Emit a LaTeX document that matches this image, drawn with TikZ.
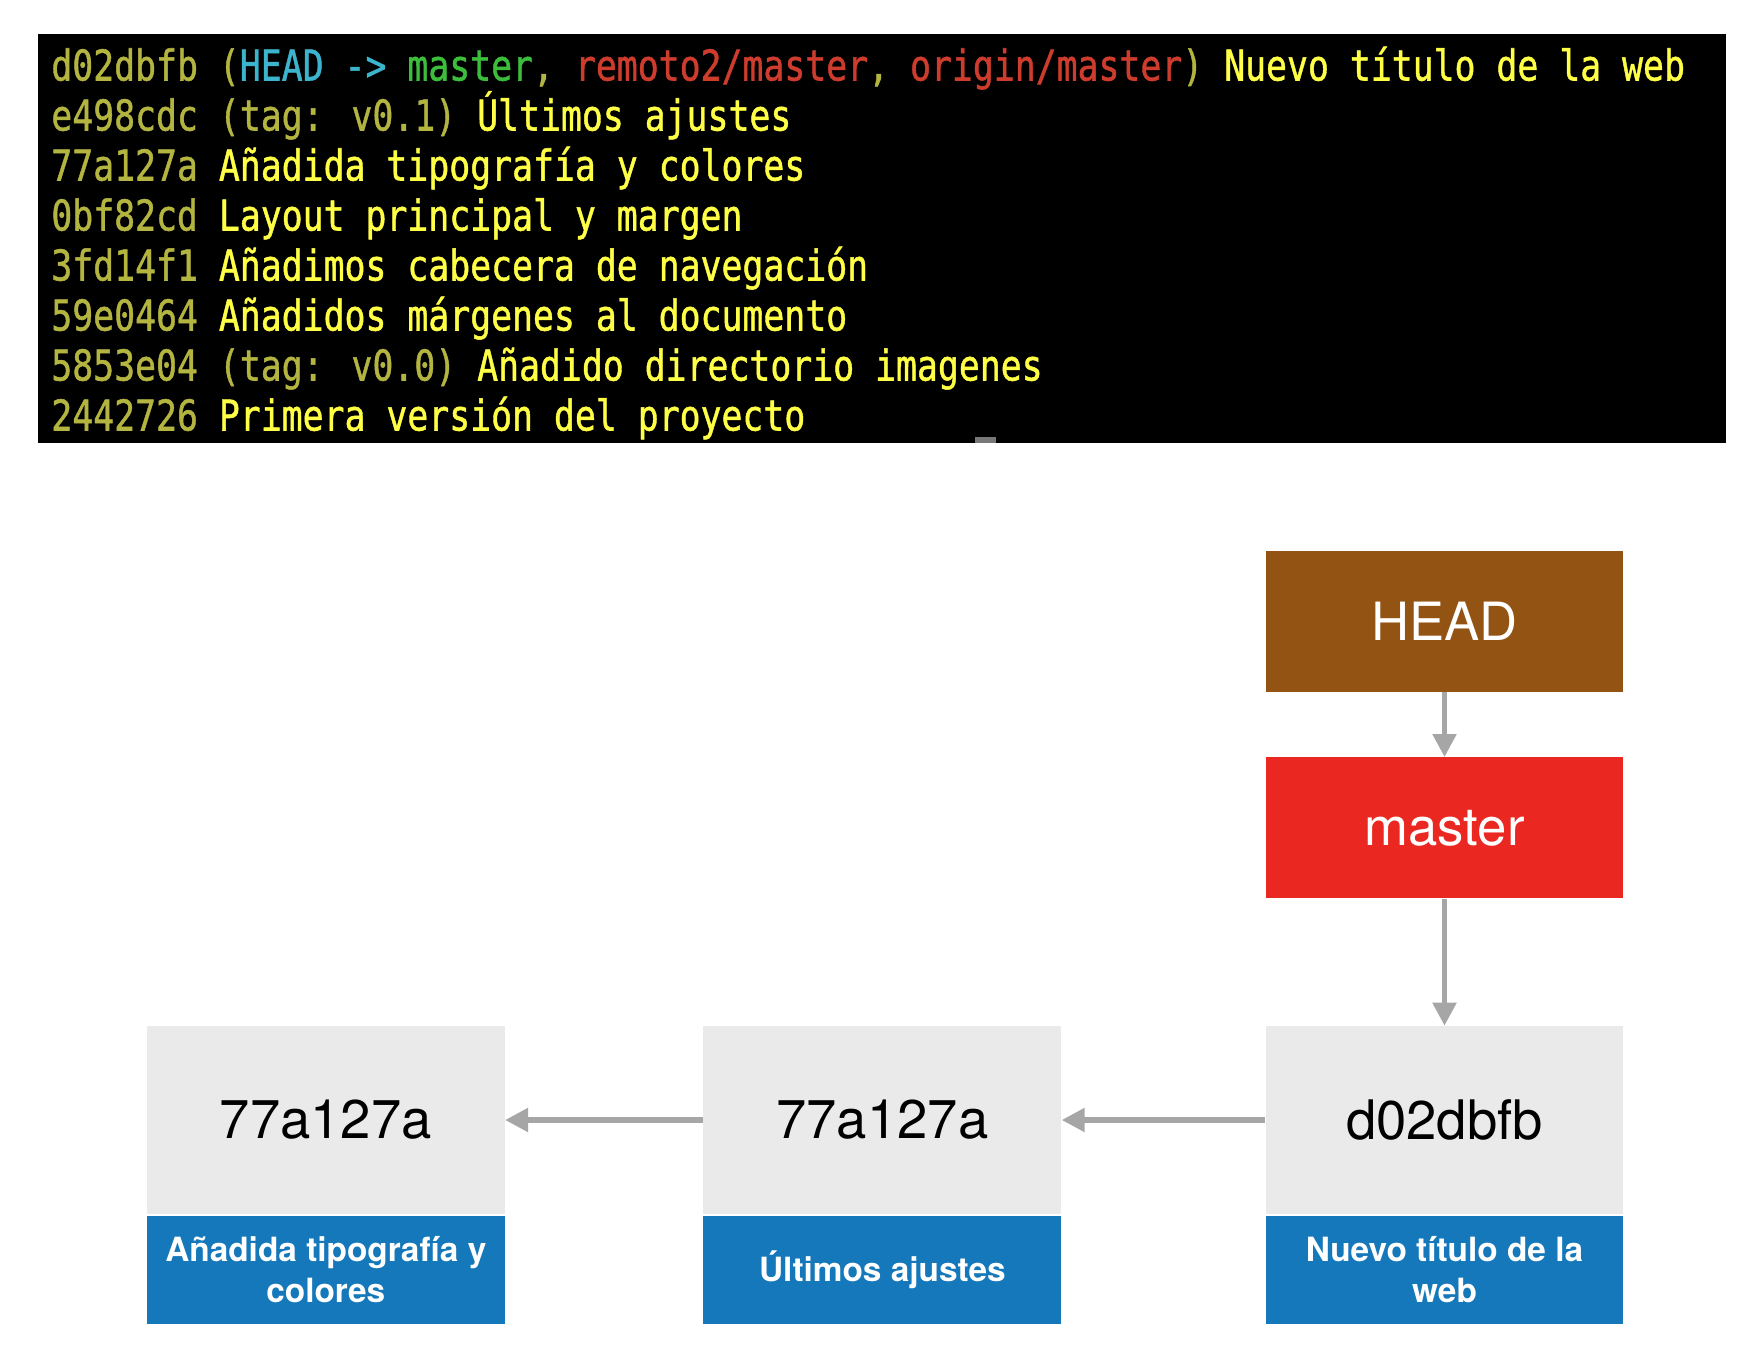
\documentclass[tikz,border=0pt]{standalone}
\usepackage{fontspec}
\usepackage{graphicx}
\usetikzlibrary{positioning,arrows.meta}

\newfontfamily\termfont[FakeBold=1.2]{DejaVu Sans Mono}
\newfontfamily\boxfont{TeX Gyre Heros}

\definecolor{termhash}{RGB}{180,180,64}
\definecolor{termmsg}{RGB}{255,255,70}
\definecolor{termhead}{RGB}{60,180,205}
\definecolor{termbranch}{RGB}{60,190,60}
\definecolor{termremote}{RGB}{205,60,45}
\definecolor{cursorgray}{RGB}{120,120,120}
\definecolor{headcolor}{RGB}{147,83,19}
\definecolor{mastercolor}{RGB}{234,40,33}
\definecolor{commitgray}{RGB}{234,234,234}
\definecolor{msgblue}{RGB}{20,120,186}
\definecolor{arrowgray}{RGB}{166,166,166}

\newcommand{\hsh}[1]{\textcolor{termhash}{#1}}
\newcommand{\termrow}[1]{\scalebox{1}[1.22]{#1}}

\tikzset{
    >={Triangle[length=0.46cm,width=0.46cm]},
    termline/.style={
        anchor=base west,
        inner sep=0pt,
        text=termmsg,
        font=\termfont\fontsize{19.8}{24}\selectfont
    },
    refbox/.style={
        rectangle,
        minimum width=7.15cm,
        minimum height=2.82cm,
        inner sep=0pt,
        text=white,
        font=\boxfont\fontsize{30}{36}\selectfont
    },
    commit/.style={
        rectangle,
        fill=commitgray,
        minimum width=7.16cm,
        minimum height=3.76cm,
        inner sep=0pt,
        font=\boxfont\fontsize{31}{36}\selectfont
    },
    msg/.style={
        rectangle,
        fill=msgblue,
        minimum width=7.16cm,
        minimum height=2.16cm,
        inner sep=0pt,
        align=center,
        text=white,
        font=\boxfont\bfseries\fontsize{19}{23.2}\selectfont
    },
    link/.style={draw=arrowgray, line width=3pt, ->}
}

\begin{document}
\begin{tikzpicture}[x=0.02cm, y=-0.02cm, node distance=4cm]
    \useasboundingbox (0,0) rectangle (1754,1368);

    % terminal
    \fill[black] (38,34) rectangle (1726,443);
    \fill[cursorgray] (975,437) rectangle (996,443);
    \node[termline] (L1) at (51,80.5) {\termrow{\hsh{d02dbfb (}\textcolor{termhead}{HEAD -> }\textcolor{termbranch}{master}\hsh{, }\textcolor{termremote}{remoto2/master}\hsh{, }\textcolor{termremote}{origin/master}\hsh{)} Nuevo título de la web}};
    \node[termline] (L2) at (51,130.5) {\termrow{\hsh{e498cdc (tag: v0.1)} Últimos ajustes}};
    \node[termline] (L3) at (51,180.5) {\termrow{\hsh{77a127a} Añadida tipografía y colores}};
    \node[termline] (L4) at (51,230.5) {\termrow{\hsh{0bf82cd} Layout principal y margen}};
    \node[termline] (L5) at (51,280.5) {\termrow{\hsh{3fd14f1} Añadimos cabecera de navegación}};
    \node[termline] (L6) at (51,330.5) {\termrow{\hsh{59e0464} Añadidos márgenes al documento}};
    \node[termline] (L7) at (51,380.5) {\termrow{\hsh{5853e04 (tag: v0.0)} Añadido directorio imagenes}};
    \node[termline] (L8) at (51,430.5) {\termrow{\hsh{2442726} Primera versión del proyecto}};

    % commits
    \node[commit] (c3) at (1444.5,1120) {d02dbfb};
    \node[commit, left=4.07cm of c3] (c2) {77a127a};
    \node[commit, left=3.96cm of c2] (c1) {77a127a};
    \node[msg, below=0.02cm of c3] (m3) {Nuevo título de la\\web};
    \node[msg, below=0.02cm of c2] (m2) {Últimos ajustes};
    \node[msg, below=0.02cm of c1] (m1) {Añadida tipografía y\\colores};

    % references
    \node[refbox, fill=mastercolor, above=2.54cm of c3] (master) {master};
    \node[refbox, fill=headcolor, above=1.3cm of master] (head) {HEAD};

    \draw[link] (head) -- (master);
    \draw[link] (master) -- (c3);
    \draw[link] (c3) -- (c2);
    \draw[link] (c2) -- (c1);
\end{tikzpicture}
\end{document}
